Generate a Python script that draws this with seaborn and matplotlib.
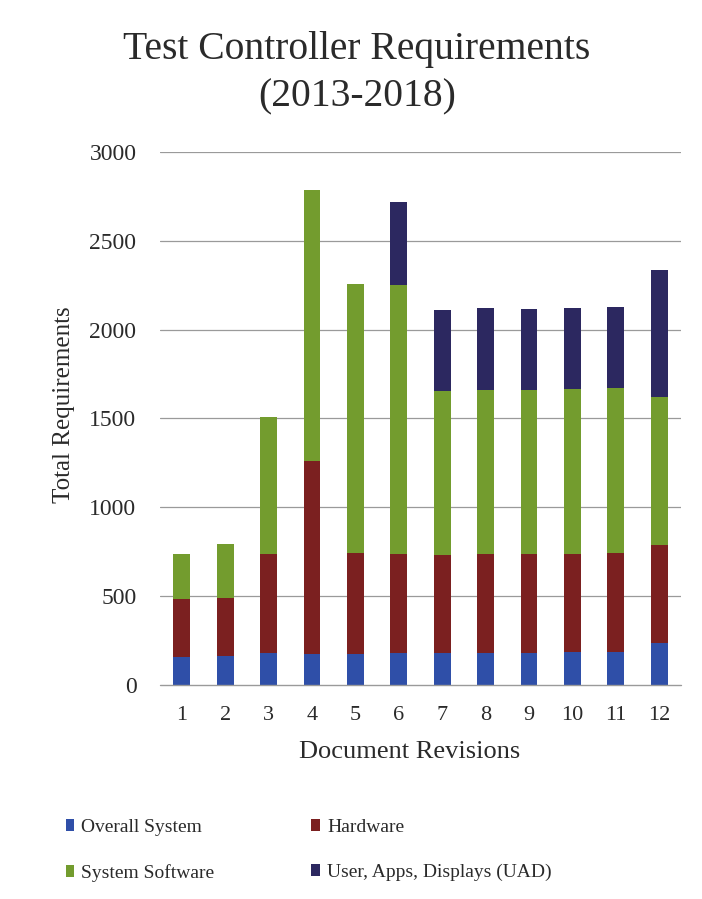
import numpy as np
import pandas as pd
import matplotlib
matplotlib.use("Agg")
import matplotlib.pyplot as plt
from matplotlib.patches import Patch
import seaborn as sns

# Requirement counts per document revision, by category
revisions = ["1", "2", "3", "4", "5", "6", "7", "8", "9", "10", "11", "12"]
overall_system = [155, 165, 180, 175, 172, 182, 180, 182, 180, 185, 188, 235]
hardware = [331, 325, 560, 1087, 570, 556, 550, 556, 557, 555, 554, 552]
system_software = [254, 303, 770, 1522, 1516, 1514, 925, 922, 924, 924, 928, 835]
uad = [0, 0, 0, 0, 0, 468, 457, 460, 457, 460, 456, 713]

series_names = ["Overall System", "Hardware", "System Software",
                "User, Apps, Displays (UAD)"]
series_colors = ["#2f4fa8", "#7b2020", "#739c2e", "#2c2860"]
y_ticks = [0, 500, 1000, 1500, 2000, 2500, 3000]

sns.set_theme(style="white")
plt.rcParams["font.family"] = ["Liberation Serif", "DejaVu Serif"]

df = pd.DataFrame({
    "revision": revisions,
    "Overall System": overall_system,
    "Hardware": hardware,
    "System Software": system_software,
    "User, Apps, Displays (UAD)": uad,
})

# Cumulative heights so each layer sits on top of the previous ones
cum = df[series_names].cumsum(axis=1)

fig = plt.figure(figsize=(7.02, 8.99), dpi=100)
fig.patch.set_facecolor("white")
ax = fig.add_axes([0.228, 0.238, 0.742, 0.593])

grid_color = "#9a9a9a"
ax.set_axisbelow(True)
for t in y_ticks[1:]:
    ax.axhline(t, color=grid_color, lw=0.9, zorder=0)
# baseline drawn over the bar bottoms
ax.axhline(0, color=grid_color, lw=1.0, zorder=5, clip_on=False)

# Draw from the tallest cumulative layer down so lower segments overlay
for name, color in reversed(list(zip(series_names, series_colors))):
    sns.barplot(x=df["revision"], y=cum[name], order=revisions, color=color,
                saturation=1, width=0.39, linewidth=0, edgecolor="none",
                ax=ax, zorder=2)

ax.set_ylim(0, 3000)
ax.set_xlim(-0.5, 11.5)
ax.set_yticks(y_ticks)
ax.set_yticklabels([str(t) for t in y_ticks])
ax.set_xlabel("")
ax.set_ylabel("")
for s in ax.spines.values():
    s.set_visible(False)
ax.tick_params(axis="y", length=0, pad=17, labelsize=17, colors="#2a2a2a")
ax.tick_params(axis="x", length=0, pad=15, labelsize=16, colors="#2a2a2a")

fig.text(410 / 702, 1 - 752 / 899, "Document Revisions", ha="center",
         va="center", fontsize=19, color="#2a2a2a")
fig.text(64 / 702, 1 - 405 / 899, "Total Requirements", ha="center",
         va="center", rotation=90, fontsize=18, color="#2a2a2a")

fig.text(357 / 702, 1 - 50 / 899, "Test Controller Requirements",
         ha="center", va="center", fontsize=28.5, color="#2a2a2a")
fig.text(357 / 702, 1 - 97 / 899, "(2013-2018)",
         ha="center", va="center", fontsize=28.5, color="#2a2a2a")

# Legend laid out row-wise: Overall / Hardware, then Software / UAD
handles = [Patch(facecolor=c, edgecolor="none") for c in series_colors]
order = [0, 2, 1, 3]
fig.legend([handles[i] for i in order], [series_names[i] for i in order],
           ncol=2, loc="upper left", bbox_to_anchor=(48 / 702, 1 - 801 / 899),
           frameon=False, fontsize=14, handlelength=0.45, handleheight=0.6,
           handletextpad=0.35, columnspacing=5.0, labelspacing=1.45,
           labelcolor="#2a2a2a")

fig.savefig("out.png", dpi=100, facecolor="white")
